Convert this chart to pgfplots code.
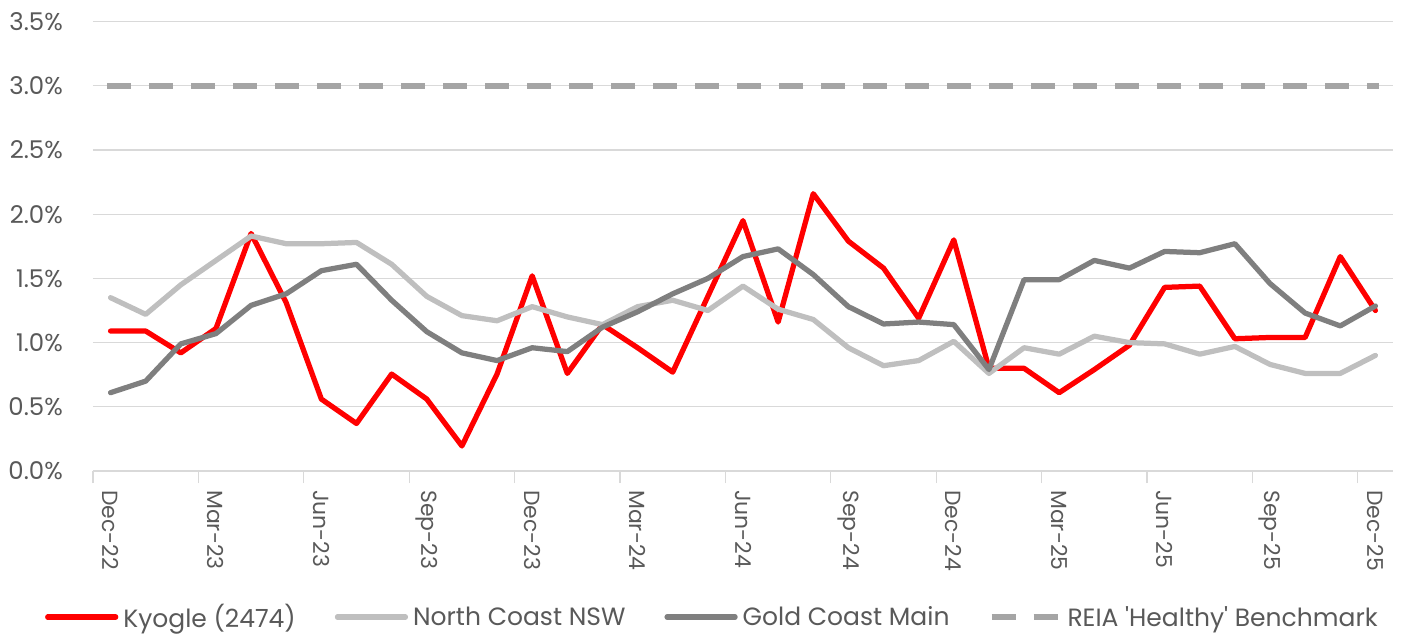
\documentclass[border=0pt]{standalone}
\usepackage{pgfplots}
\pgfplotsset{compat=1.18}
\usepackage{fontspec}
\setmainfont{Poppins}[Ligatures=TeXOff]
\definecolor{kred}{HTML}{FF0000}
\definecolor{lgrey}{HTML}{BFBFBF}
\definecolor{dgrey}{HTML}{7F7F7F}
\definecolor{bgrey}{HTML}{A5A5A5}
\definecolor{gridc}{HTML}{D9D9D9}
\definecolor{txt}{HTML}{595959}
\begin{document}
\begin{tikzpicture}
\begin{axis}[
  scale only axis,
  width=1300bp, height=449.4bp,
  xmin=-0.5, xmax=36.5, ymin=0, ymax=3.5,
  axis line style={draw=none},
  ymajorgrids, grid style={draw=gridc, line width=1.2bp},
  xtick={0,3,...,36},
  xticklabels={Dec-22,Mar-23,Jun-23,Sep-23,Dec-23,Mar-24,Jun-24,Sep-24,Dec-24,Mar-25,Jun-25,Sep-25,Dec-25},
  minor xtick={-0.5,2.5,...,35.5},
  ytick={0,0.5,...,3.5},
  yticklabels={0.0\%,0.5\%,1.0\%,1.5\%,2.0\%,2.5\%,3.0\%,3.5\%},
  major tick length=0pt, minor tick length=12bp,
  tick align=outside, xtick pos=bottom, ytick pos=left,
  minor tick style={draw=gridc, line width=1.2bp},
  tick label style={text=txt},
  xticklabel style={font=\fontsize{22}{26}\selectfont, yshift=-19bp, rotate=-90, anchor=west, inner sep=0pt},
  yticklabel style={font=\fontsize{24.5}{28}\selectfont, anchor=east, inner sep=0pt, xshift=-30bp},
  legend columns=4,
  legend style={draw=none, fill=none, at={(0.4765,-0.325)}, anchor=center,
    font=\fontsize{25.1}{29}\selectfont, text=txt,
    /tikz/every even column/.append style={column sep=37bp}},
  legend image code/.code={\draw[#1] (0bp,0bp) -- (68bp,0bp); \path (71bp,0bp);},
  clip=false,
]
\addplot[kred, line width=5.25bp, line join=round, line cap=round] coordinates {
(0,1.09) (1,1.09) (2,0.92) (3,1.11) (4,1.85) (5,1.31) (6,0.56) (7,0.37) (8,0.755) (9,0.56)
(10,0.195) (11,0.755) (12,1.52) (13,0.76) (14,1.14) (15,0.96) (16,0.77) (17,1.36) (18,1.95) (19,1.16)
(20,2.16) (21,1.79) (22,1.58) (23,1.19) (24,1.80) (25,0.80) (26,0.80) (27,0.61) (28,0.79) (29,0.98)
(30,1.43) (31,1.44) (32,1.03) (33,1.04) (34,1.04) (35,1.67) (36,1.25)};
\addlegendentry{Kyogle (2474)}
\addplot[lgrey, line width=5.25bp, line join=round, line cap=round] coordinates {
(0,1.35) (1,1.22) (2,1.45) (3,1.64) (4,1.83) (5,1.77) (6,1.77) (7,1.78) (8,1.61) (9,1.36)
(10,1.21) (11,1.17) (12,1.28) (13,1.20) (14,1.14) (15,1.28) (16,1.33) (17,1.25) (18,1.44) (19,1.26)
(20,1.18) (21,0.96) (22,0.82) (23,0.86) (24,1.01) (25,0.76) (26,0.96) (27,0.91) (28,1.05) (29,1.00)
(30,0.99) (31,0.91) (32,0.97) (33,0.83) (34,0.76) (35,0.76) (36,0.90)};
\addlegendentry{North Coast NSW}
\addplot[dgrey, line width=5.25bp, line join=round, line cap=round] coordinates {
(0,0.61) (1,0.70) (2,0.99) (3,1.07) (4,1.29) (5,1.38) (6,1.56) (7,1.61) (8,1.33) (9,1.085)
(10,0.92) (11,0.86) (12,0.96) (13,0.93) (14,1.12) (15,1.24) (16,1.38) (17,1.50) (18,1.67) (19,1.73)
(20,1.53) (21,1.28) (22,1.145) (23,1.16) (24,1.14) (25,0.79) (26,1.49) (27,1.49) (28,1.64) (29,1.58)
(30,1.71) (31,1.70) (32,1.77) (33,1.46) (34,1.23) (35,1.13) (36,1.285)};
\addlegendentry{Gold Coast Main}
\addplot[bgrey, line width=6bp, dash pattern=on 24bp off 18bp] coordinates {(-0.1,3) (36.1,3)};
\addlegendentry{REIA 'Healthy' Benchmark}
\end{axis}
\path (-93bp,-163bp) rectangle (1308bp,471bp);
\end{tikzpicture}
\end{document}
